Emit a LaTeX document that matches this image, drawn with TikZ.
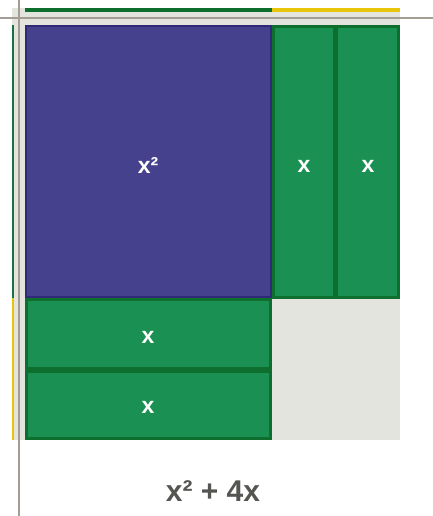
\documentclass[tikz,border=0pt]{standalone}
\usepackage{fontspec}
\setmainfont{Liberation Sans}
\definecolor{bgrey}{HTML}{E4E4DF}
\definecolor{purp}{HTML}{46418C}
\definecolor{purpdark}{HTML}{2E2A78}
\definecolor{grn}{HTML}{1A9152}
\definecolor{grndark}{HTML}{0E6E2E}
\definecolor{axis}{HTML}{A39D93}
\definecolor{ylw}{HTML}{E8C40A}
\definecolor{txtgrey}{HTML}{555552}
\begin{document}
\begin{tikzpicture}[x=1pt,y=-1pt,
  tile/.style={draw=grndark,line width=2.6pt,fill=grn},
  sq/.style={draw=purpdark,line width=1.8pt,fill=purp},
  lbl/.style={text=white,font=\fontsize{23}{23}\selectfont\bfseries},
  axisline/.style={draw=axis,line width=2pt}]
\useasboundingbox (0,0) rectangle (433,516);
% background grey region
\fill[bgrey] (12,8) rectangle (400,440);
% top colored strips
\fill[grndark] (25,8) rectangle (272,12);
\fill[ylw] (272,8) rectangle (400,12);
% left colored strips
\fill[grn!80!black] (12,25) rectangle (13.5,298);
\fill[ylw] (12,298) rectangle (13.5,440);
% dark green backing behind tile groups
\fill[grndark] (272,25) rectangle (400,298.5);
\fill[grndark] (25,298) rectangle (271.8,440);
% tiles
\draw[sq] (26,26) rectangle (271,297);
\draw[tile] (273.5,26.3) rectangle (334,297.5);
\draw[tile] (337,26.3) rectangle (398.7,297.5);
\draw[tile] (26.3,299.5) rectangle (270.5,368);
\draw[tile] (26.3,371.5) rectangle (270.5,438.7);
% labels
\node[lbl] (sq1) at (148,165) {x²};
\node[lbl] (v1) at (304,166) {x};
\node[lbl] (v2) at (368,166) {x};
\node[lbl] (h1) at (148,337) {x};
\node[lbl] (h2) at (148,407) {x};
% axes
\coordinate (ht0) at (0,18.5);
\coordinate (ht1) at (433,18.5);
\coordinate (vt0) at (18.5,0);
\coordinate (vt1) at (18.5,516);
\draw[axisline] (ht0) -- (ht1);
\draw[axisline] (vt0) -- (vt1);
% caption
\node[text=txtgrey,font=\fontsize{30}{30}\selectfont\bfseries] (cap) at (213,491) {x² + 4x};
\end{tikzpicture}
\end{document}
